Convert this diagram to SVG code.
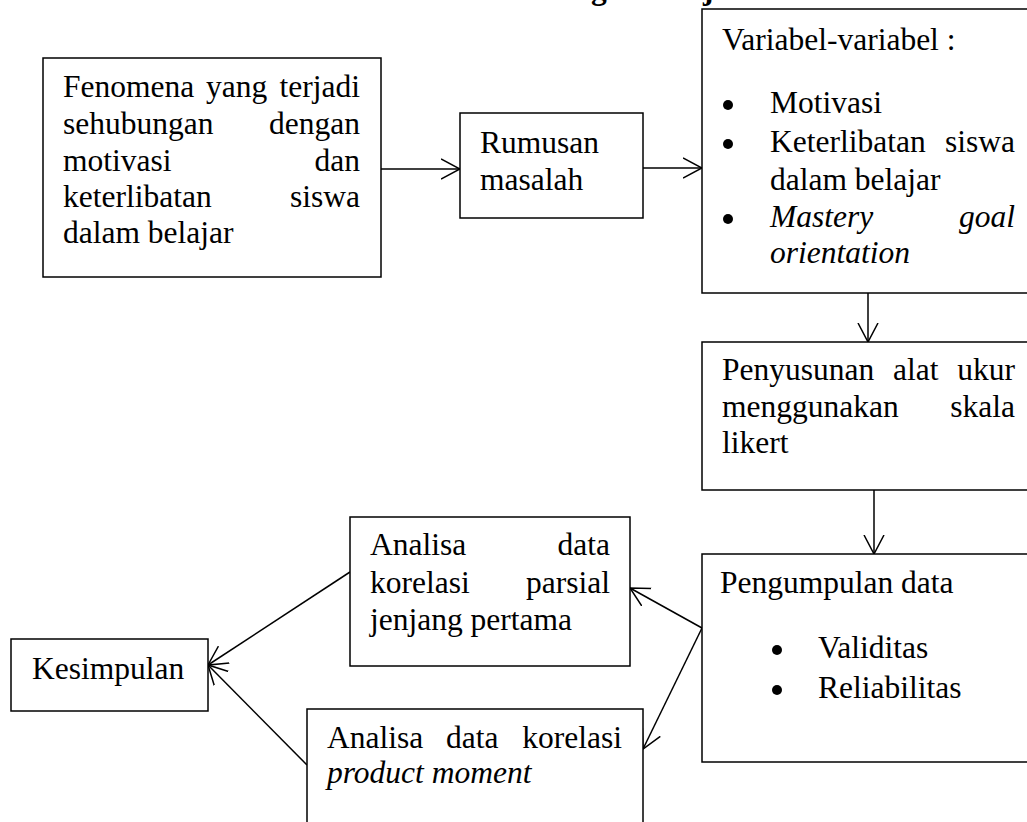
<svg xmlns="http://www.w3.org/2000/svg" width="1027" height="822" viewBox="0 0 1027 822">
<style>
.box{fill:#fff;stroke:#000;stroke-width:1.5}
.t{font-family:"Liberation Serif","Times New Roman",serif;font-size:31.5px;fill:#000}
.i{font-style:italic}
.e{text-anchor:end}
.b{font-weight:bold}
.c{fill:none;stroke:#000;stroke-width:1.5}
.dot{fill:#000}
</style>
<defs>
<marker id="ah" viewBox="0 0 20 22" refX="19" refY="11" markerWidth="20" markerHeight="22" markerUnits="userSpaceOnUse" orient="auto">
<path d="M0,1 L19,11 L0,21" fill="none" stroke="#000" stroke-width="1.5"/>
</marker>
</defs>
<rect width="1027" height="822" fill="#fff"/>
<g id="title-fragment">
<text class="t b" x="591" y="-1">g</text>
<text class="t b" x="703" y="-1">j</text>
</g>
<g id="connectors">
<line class="c" x1="381" y1="169" x2="460" y2="169" marker-end="url(#ah)"/>
<line class="c" x1="643" y1="168" x2="702" y2="168" marker-end="url(#ah)"/>
<line class="c" x1="868" y1="293" x2="868" y2="342" marker-end="url(#ah)"/>
<line class="c" x1="874" y1="490" x2="874" y2="554" marker-end="url(#ah)"/>
<line class="c" x1="702" y1="628" x2="630" y2="588" marker-end="url(#ah)"/>
<line class="c" x1="702" y1="628" x2="643" y2="749" marker-end="url(#ah)"/>
<line class="c" x1="350" y1="572" x2="208" y2="665" marker-end="url(#ah)"/>
<line class="c" x1="307" y1="765" x2="208" y2="665" marker-end="url(#ah)"/>
</g>
<g id="fenomena">
<rect class="box" x="43" y="58" width="338" height="219"/>
<text class="t" x="63" y="97">Fenomena</text>
<text class="t" x="206" y="97">yang</text>
<text class="t e" x="360" y="97">terjadi</text>
<text class="t" x="63" y="134">sehubungan</text>
<text class="t e" x="360" y="134">dengan</text>
<text class="t" x="63" y="171">motivasi</text>
<text class="t e" x="360" y="171">dan</text>
<text class="t" x="63" y="207">keterlibatan</text>
<text class="t e" x="360" y="207">siswa</text>
<text class="t" x="63" y="243">dalam belajar</text>
</g>
<g id="rumusan">
<rect class="box" x="460" y="113" width="183" height="105"/>
<text class="t" x="480" y="153">Rumusan</text>
<text class="t" x="480" y="190">masalah</text>
</g>
<g id="variabel">
<rect class="box" x="702" y="9" width="340" height="284"/>
<text class="t" x="722" y="50">Variabel-variabel :</text>
<circle class="dot" cx="728" cy="105" r="5"/>
<text class="t" x="770" y="113">Motivasi</text>
<circle class="dot" cx="728" cy="144" r="5"/>
<text class="t" x="770" y="152">Keterlibatan</text>
<text class="t e" x="1015" y="152">siswa</text>
<text class="t" x="770" y="190">dalam belajar</text>
<circle class="dot" cx="728" cy="219" r="5"/>
<text class="t i" x="770" y="227">Mastery</text>
<text class="t i e" x="1015" y="227">goal</text>
<text class="t i" x="770" y="263">orientation</text>
</g>
<g id="penyusunan">
<rect class="box" x="702" y="342" width="340" height="148"/>
<text class="t" x="722" y="380">Penyusunan</text>
<text class="t" x="893" y="380">alat</text>
<text class="t e" x="1015" y="380">ukur</text>
<text class="t" x="722" y="417">menggunakan</text>
<text class="t e" x="1015" y="417">skala</text>
<text class="t" x="722" y="453">likert</text>
</g>
<g id="pengumpulan">
<rect class="box" x="702" y="554" width="340" height="208"/>
<text class="t" x="720" y="593">Pengumpulan data</text>
<circle class="dot" cx="777" cy="650" r="5"/>
<text class="t" x="818" y="658">Validitas</text>
<circle class="dot" cx="777" cy="690" r="5"/>
<text class="t" x="818" y="698">Reliabilitas</text>
</g>
<g id="analisa-parsial">
<rect class="box" x="350" y="517" width="280" height="149"/>
<text class="t" x="370" y="555">Analisa</text>
<text class="t e" x="610" y="555">data</text>
<text class="t" x="370" y="593">korelasi</text>
<text class="t e" x="610" y="593">parsial</text>
<text class="t" x="370" y="630">jenjang pertama</text>
</g>
<g id="analisa-product-moment">
<rect class="box" x="307" y="709" width="336" height="140"/>
<text class="t" x="327" y="748">Analisa</text>
<text class="t" x="446" y="748">data</text>
<text class="t e" x="622" y="748">korelasi</text>
<text class="t i" x="327" y="783">product moment</text>
</g>
<g id="kesimpulan">
<rect class="box" x="11" y="639" width="197" height="72"/>
<text class="t" x="32" y="679">Kesimpulan</text>
</g>
</svg>
